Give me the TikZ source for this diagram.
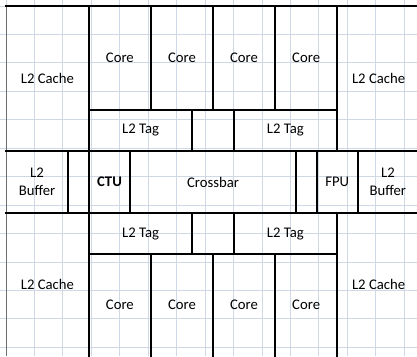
\documentclass[tikz,border=0pt]{standalone}
\usepackage{fontspec}
\setmainfont{Carlito}
\usepackage{xcolor}
\definecolor{gridblue}{RGB}{208, 215, 229}
\definecolor{edgegray}{RGB}{110, 110, 110}
\usepackage{tikz}
\usetikzlibrary{positioning}

\begin{document}
\begin{tikzpicture}[x=20.7pt, y=20.7pt,
        gridline/.style={draw=gridblue, line width=1pt},
        wall/.style={draw=black, line width=2pt, line cap=rect},
        label/.style={font=\fontsize{14.7}{18}\selectfont, text=black, align=center, inner sep=0pt}]

        \useasboundingbox (-0.29,0.29) rectangle (19.855,-16.908);

        % sheet grid and left margin
        \draw [gridline] (-0.29,-16.908) grid (19.855,0.29);
        \draw [draw=edgegray, line width=1pt] (0,0) -- (0,-16.908);

        % outer walls
        \draw [wall, line width=2.5pt] (0,0) -- (19.855,0);
        \draw [wall] (0,-7) -- (19.855,-7);
        \draw [wall] (0,-10) -- (19.855,-10);
        \draw [wall] (4,0) -- (4,-16.908);
        \draw [wall] (16,0) -- (16,-7);
        \draw [wall] (16,-10) -- (16,-16.908);

        % core rows
        \draw [wall] (4,-5) -- (16,-5);
        \draw [wall] (4,-12) -- (16,-12);
        \foreach \cx in {7,10,13} {
            \draw [wall] (\cx,0) -- (\cx,-5);
            \draw [wall] (\cx,-12) -- (\cx,-16.908);
        }

        % tag rows
        \foreach \cx in {9,11} {
            \draw [wall] (\cx,-5) -- (\cx,-7);
            \draw [wall] (\cx,-10) -- (\cx,-12);
        }

        % crossbar row
        \foreach \cx in {3,6,14,15,17}
            \draw [wall] (\cx,-7) -- (\cx,-10);

        % top half
        \node [label] (cacheTL) at (2,-3.5) {L2 Cache};
        \node [label] (cacheTR) at (18,-3.5) {L2 Cache};
        \node [label] (coreT1) at (5.5,-2.5) {Core};
        \node [label] (coreT2) at (8.5,-2.5) {Core};
        \node [label] (coreT3) at (11.5,-2.5) {Core};
        \node [label] (coreT4) at (14.5,-2.5) {Core};
        \node [label] (tagT1) at (6.5,-6) {L2 Tag};
        \node [label] (tagT2) at (13.5,-6) {L2 Tag};

        % middle
        \node [label] (bufL) at (1.5,-8.5) {L2\\Buffer};
        \node [label] (ctu) at (5,-8.5) {\textbf{CTU}};
        \node [label] (xbar) at (10,-8.5) {Crossbar};
        \node [label] (fpu) at (16,-8.5) {FPU};
        \node [label] (bufR) at (18.45,-8.5) {L2\\Buffer};

        % bottom half
        \node [label] (tagB1) at (6.5,-11) {L2 Tag};
        \node [label] (tagB2) at (13.5,-11) {L2 Tag};
        \node [label] (cacheBL) at (2,-13.45) {L2 Cache};
        \node [label] (cacheBR) at (18,-13.45) {L2 Cache};
        \node [label] (coreB1) at (5.5,-14.45) {Core};
        \node [label] (coreB2) at (8.5,-14.45) {Core};
        \node [label] (coreB3) at (11.5,-14.45) {Core};
        \node [label] (coreB4) at (14.5,-14.45) {Core};
    \end{tikzpicture}
\end{document}
